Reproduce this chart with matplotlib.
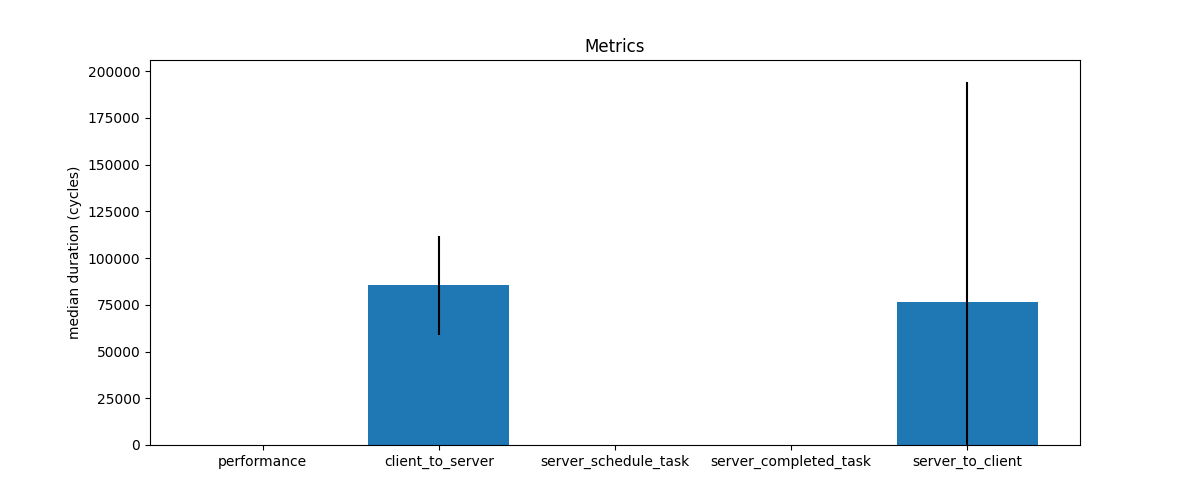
import matplotlib
matplotlib.use("Agg")
import matplotlib.pyplot as plt
import numpy as np

categories = ["performance", "client_to_server", "server_schedule_task",
              "server_completed_task", "server_to_client"]
medians = [0, 85800, 0, 0, 76600]
err_low = [0, 26900, 0, 0, 76600]
err_high = [0, 25800, 0, 0, 117500]

fig, ax = plt.subplots(figsize=(12, 5), dpi=100)
x = np.arange(len(categories))
ax.bar(x, medians, yerr=[err_low, err_high], width=0.8, color="#1f77b4",
       error_kw=dict(ecolor="black", elinewidth=1.5, capsize=0))
ax.set_xticks(x)
ax.set_xticklabels(categories)
ax.set_ylim(0, 205900)
ax.set_ylabel("median duration (cycles)")
ax.set_title("Metrics")
fig.savefig("out.png")
